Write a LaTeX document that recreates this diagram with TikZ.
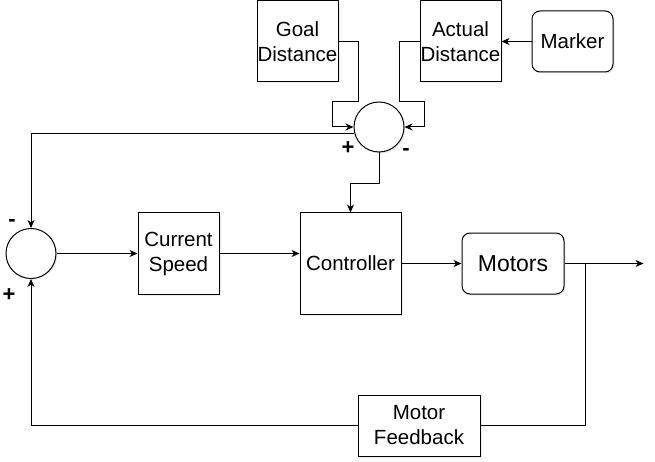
\documentclass[tikz,border=0pt]{standalone}
\usepackage{fontspec}
\setmainfont{Liberation Sans}
\usetikzlibrary{arrows.meta, positioning, shadows}

\begin{document}
\begin{tikzpicture}[x=1pt, y=1pt, >={Stealth[length=8pt, width=7pt, inset=2.5pt]}, line width=1pt, font=\fontsize{20.5}{25}\selectfont,
  blk/.style={draw, fill=white, align=center, inner sep=0pt, drop shadow={shadow xshift=1.5pt, shadow yshift=-1.5pt, opacity=0.15}},
  sumc/.style={draw, circle, fill=white, minimum size=50pt, inner sep=0pt, drop shadow={shadow xshift=1.5pt, shadow yshift=-1.5pt, opacity=0.15}},
  sgn/.style={font=\fontsize{22}{22}\selectfont\bfseries, inner sep=0pt}]
\useasboundingbox (0,0) rectangle (655,-462);
% main loop
\node[sumc] (ssum) at (31,-253.5) {};
\node[blk, minimum width=81pt, minimum height=81pt, right=81pt of ssum] (speed) {Current\\Speed};
\node[blk, minimum width=101pt, minimum height=101pt, right=80pt of speed.north east, anchor=north west] (ctrl) {Controller};
\node[blk, rounded corners=8pt, minimum width=102pt, minimum height=61pt, right=60pt of ctrl, font=\fontsize{23}{27}\selectfont] (motors) {Motors};
\coordinate[right=79pt of motors] (out);
\coordinate[right=21pt of motors.east] (br);
\node[blk, minimum width=122pt, minimum height=61pt] (fb) at (419,-425.5) {Motor\\Feedback};
% distance part
\node[sumc] (tsum) at (379,-127) {};
\node[blk, minimum width=81pt, minimum height=81pt] (goal) at (297.5,-41.5) {Goal\\Distance};
\node[blk, minimum width=81pt, minimum height=81pt, right=81pt of goal] (actual) {Actual\\Distance};
\node[blk, rounded corners=8pt, minimum width=81pt, minimum height=61pt, right=30pt of actual] (marker) {Marker};
% signs
\node[sgn] (plusT) at (348,-148) {+};
\node[sgn] (minusT) at (406,-152) {-};
\node[sgn] (minusL) at (12,-223) {-};
\node[sgn] (plusL) at (9,-295) {+};
% connectors
\draw[->] (marker) -- (actual);
\draw[->] (goal.east) -| ([xshift=20pt]goal.east |- tsum.north) -| ([xshift=-21pt]tsum.west) -- (tsum.west);
\draw[->] (actual.west) -| ([xshift=-20pt]actual.west |- tsum.north) -| ([xshift=20pt]tsum.east) -- (tsum.east);
\draw[->] (tsum.south) -- ++(0,-31) -| (ctrl.north);
\draw[->] (tsum.194) -| (ssum.north);
\draw[->] (ssum) -- (speed);
\draw[->] (speed.east) -- (speed.east -| ctrl.west);
\draw[->] (ctrl) -- (motors);
\draw[->] (motors) -- (out);
\draw (br) |- (fb.east);
\draw[->] (fb.west) -| (ssum.south);
\end{tikzpicture}
\end{document}
